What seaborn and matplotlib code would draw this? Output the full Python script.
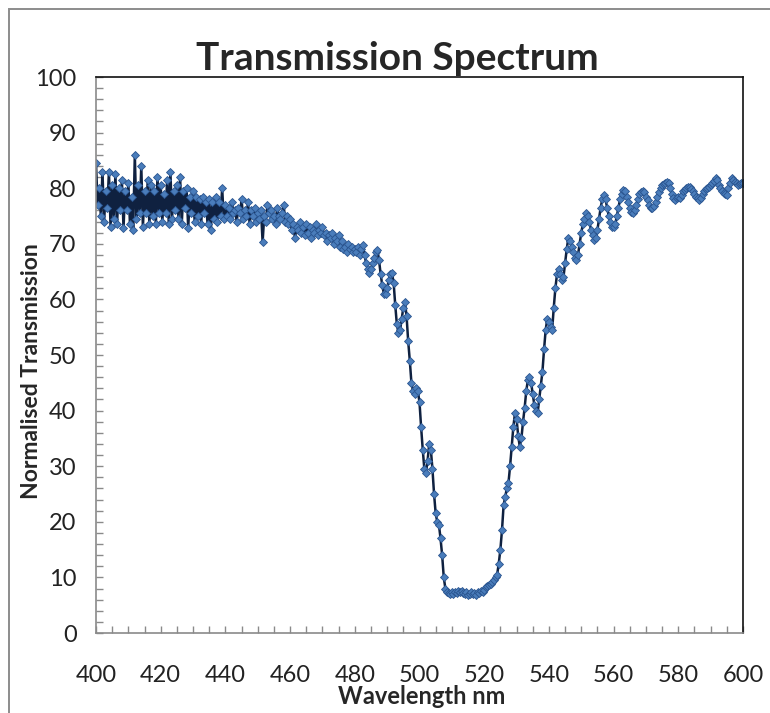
"""
plot.py — Transmission spectrum (Excel-style line with diamond markers).
"""

import matplotlib
matplotlib.use("Agg")
import matplotlib.pyplot as plt
import numpy as np
import pandas as pd
import seaborn as sns
from matplotlib.patches import Rectangle
from matplotlib.ticker import MultipleLocator

# ── Data (0.5 nm steps) ────────────────────────────────────────────────
trans_400_440 = [
    84.5, 77, 80, 75, 83, 74, 79.5, 76.5, 83, 73, 80.5, 74.5, 82.5, 73.5,
    80, 76, 81.5, 72.8, 79.5, 76, 81, 73.5, 78.5, 72.5, 86, 74.5, 80.5, 75.5,
    84, 73, 79.5, 75.5, 81.5, 73.5, 80.5, 75, 79.5, 73.5, 82, 75.5,
    80.5, 74, 79, 75.5, 81.5, 73.5, 83, 74.5, 79.5, 76, 80.5, 74.5, 82, 73.5,
    79.5, 76.5, 80, 72.8, 78.5, 75.5, 79.5, 74, 78.5, 75, 78, 73.5, 78.5,
    75.5, 77.5, 73.5, 78, 72.5, 77.5, 74.5, 78.5, 74, 77.5, 75, 80, 74.5,
]
trans_440_480 = [
    77, 75, 76.5, 74.5, 77.5, 75.5, 76, 74, 76.5, 75.5, 78, 74.5, 76, 75,
    77.5, 73.5, 76, 75, 76.5, 74, 75.5, 74.5, 76, 70.3, 75, 74, 77, 75.5,
    76, 74.5, 75, 73.5, 76.5, 75, 74.5, 75.5, 77, 74, 75, 73.5,
    74.5, 72.5, 73.5, 71, 73, 72.5, 74, 72, 73, 71.5, 73.5, 72, 73, 71,
    72.5, 72, 73.5, 71.5, 72.5, 72, 73, 71.5, 72, 70.5, 71.5, 71, 72, 70,
    71, 70.5, 71.5, 69.5, 70.5, 69, 69.5, 68.5, 70, 69, 69.5, 68.5,
]
trans_480_520 = [
    69, 68.5, 69.5, 68, 69, 69.8, 68, 66.5, 65.5, 64.7, 65.5, 66.5, 67.5,
    68.5, 68.9, 67, 64.5, 62.5, 61, 61, 62, 63.5, 64.5, 64.7, 63, 59, 55.5,
    54, 54.5, 56.5, 58.5, 59.5, 57, 52.5, 49, 45, 43.5, 43, 44, 43.5,
    41.5, 37, 33, 29.5, 28.8, 31, 34, 33, 29.5, 25, 21.5, 20, 19.5, 17, 14,
    10, 8, 7.4, 7.2, 7, 7.3, 7.1, 7.4, 7.2, 7.5, 7.3, 7.6, 7.2, 7, 7.3, 6.9,
    7.1, 7.4, 7.0, 7.2, 6.9, 7.3, 7.2, 7.6, 7.4,
]
trans_520_560 = [
    7.8, 8.2, 8.4, 8.6, 8.8, 9.2, 9.6, 10, 10.5, 12.5, 15, 18.5, 23, 24.5,
    26, 27, 30, 33.5, 37, 39.5, 38.5, 35.5, 33.5, 35, 38, 40.5, 43.5, 45.5,
    46, 45, 43, 41, 40, 39.5, 42, 44.5, 47, 51, 54.5, 56.5,
    56, 55, 54.5, 58.5, 62, 64.5, 65.5, 64.5, 63.5, 64, 66.5, 69, 71, 70.5,
    69.5, 68.5, 67.5, 67, 68, 70, 72, 73.5, 74.5, 75.5, 75, 74, 72.5, 71.5,
    70.7, 71, 72.5, 74.5, 76.5, 78, 78.8, 78, 76.5, 75, 74, 73,
]
trans_560_600 = [
    73, 73.5, 75, 76.5, 78, 79, 79.7, 79.5, 78.5, 77.5, 76.5, 75.8, 75.5, 76,
    77, 78, 79, 79.3, 79.5, 79.3, 78.5, 77.8, 77, 76.5, 76.4, 76.8, 77.5,
    78.5, 79.3, 80, 80.5, 80.8, 81, 81.2, 81, 80, 79, 78.2, 77.9, 78.3,
    78.5, 78.2, 78.8, 79.5, 79.6, 80, 80.2, 80.3, 79.8, 79.5, 79, 78.5, 78.2,
    77.9, 78.3, 79, 79.5, 79.8, 80, 80.2, 80.6, 81, 81.3, 81.8, 81.5, 80.5,
    80, 79.5, 79.2, 78.9, 78.8, 80, 81, 81.8, 81.5, 81.2, 81, 80.6, 80.8, 81,
    80.9,
]

transmission = (trans_400_440 + trans_440_480 + trans_480_520
                + trans_520_560 + trans_560_600)
wavelength = 400 + 0.5 * np.arange(len(transmission))

x_ticks = [400, 420, 440, 460, 480, 500, 520, 540, 560, 580, 600]
y_ticks = [0, 10, 20, 30, 40, 50, 60, 70, 80, 90, 100]

df = pd.DataFrame({"Wavelength": wavelength, "Transmission": transmission})

# ── Style ──────────────────────────────────────────────────────────────
sns.set_style("white")
plt.rcParams["font.family"] = ["Lato", "DejaVu Sans"]

fig = plt.figure(figsize=(7.7, 7.13), dpi=100)
ax = fig.add_axes([96 / 770, 1 - 633 / 713, 647 / 770, 556 / 713])

sns.lineplot(
    data=df, x="Wavelength", y="Transmission", ax=ax,
    color="#0f2140", linewidth=1.8,
    marker="D", markersize=4.0,
    markerfacecolor="#4a7dbb", markeredgecolor="#2a5590", markeredgewidth=0.6,
)

ax.set_xlim(400, 600)
ax.set_ylim(0, 100)
ax.set_xticks(x_ticks)
ax.set_yticks(y_ticks)
ax.xaxis.set_minor_locator(MultipleLocator(5))
ax.yaxis.set_minor_locator(MultipleLocator(2))
ax.tick_params(axis="both", which="both", direction="in", length=5,
               width=1, color="#8a8a8a", labelsize=17, labelcolor="#222222",
               bottom=True, left=True, top=False, right=False)
ax.tick_params(axis="x", which="major", pad=23)
ax.tick_params(axis="y", which="major", pad=14)

for side in ["left", "bottom"]:
    ax.spines[side].set_color("#8a8a8a")
    ax.spines[side].set_linewidth(1.2)
for side in ["top", "right"]:
    ax.spines[side].set_color("#111111")
    ax.spines[side].set_linewidth(1.2)

ax.set_xlabel("Wavelength nm", fontsize=17, fontweight="bold", va="center")
ax.xaxis.set_label_coords((422 - 96) / 647, (633 - 697) / 556)
ax.set_ylabel("Normalised Transmission", fontsize=16.5, fontweight="bold",
              va="center")
ax.yaxis.set_label_coords((32 - 96) / 647, (633 - 371) / 556)

fig.text(397 / 770, 1 - 58 / 713, "Transmission Spectrum", fontsize=28,
         fontweight="bold", ha="center", va="center")

# outer chart frame
fig.patches.append(Rectangle((9 / 770, -0.1), 1.2, 1.1 - 9 / 713,
                             transform=fig.transFigure, fill=False,
                             edgecolor="#8c8c8c", linewidth=1.4))

fig.savefig("out.png", dpi=100)
plt.close(fig)
